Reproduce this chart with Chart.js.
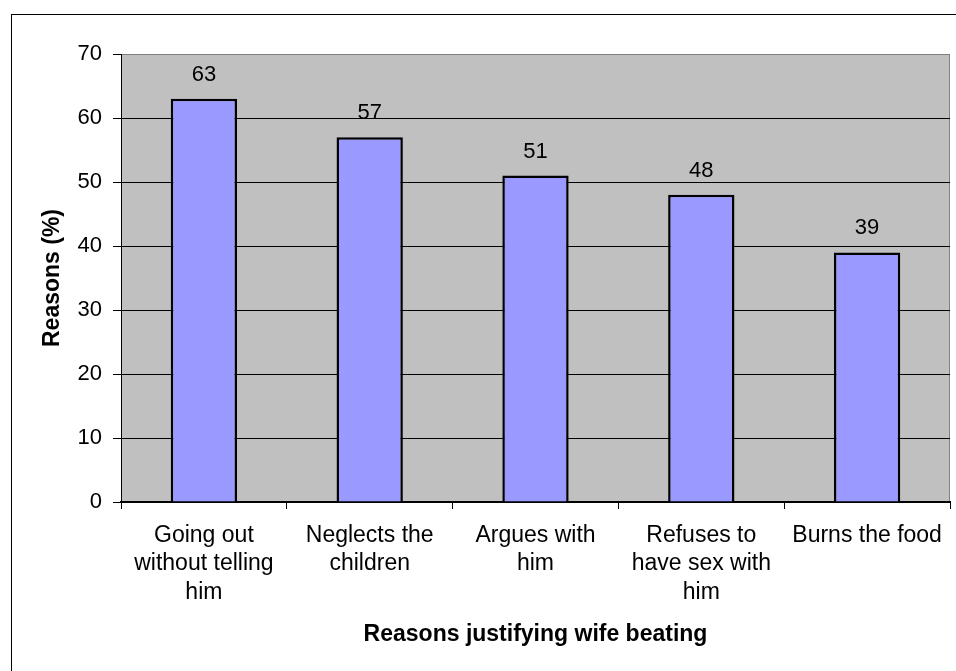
<!DOCTYPE html>
<html>
<head>
<meta charset="utf-8">
<script src="https://cdn.jsdelivr.net/npm/chart.js@4.4.1/dist/chart.umd.min.js"></script>
<style>
  body { margin: 0; background: #fff; }
</style>
</head>
<body>
<canvas id="chart" width="956" height="671"></canvas>
<script>
/* Data */
const categories = [
    ['Going out', 'without telling', 'him'],
    ['Neglects the', 'children'],
    ['Argues with', 'him'],
    ['Refuses to', 'have sex with', 'him'],
    ['Burns the food']
];
const reasons = [63, 57, 51, 48, 39];
const yTicks = { min: 0, max: 70, step: 10 };

const FONT = '"Liberation Sans", Arial, sans-serif';

/* Grey plot area plus the frame round the picture */
const backdrop = {
    id: 'backdrop',
    beforeDraw(chart) {
        const { ctx, chartArea: a } = chart;
        ctx.save();
        ctx.fillStyle = '#C0C0C0';
        ctx.fillRect(a.left, a.top, a.right - a.left, a.bottom - a.top);
        ctx.strokeStyle = '#808080';
        ctx.lineWidth = 1;
        ctx.strokeRect(a.left + 0.5, a.top + 0.5, a.right - a.left - 1, a.bottom - a.top - 1);
        ctx.strokeStyle = '#000';
        ctx.strokeRect(11.5, 14.5, 1200, 1200);
        ctx.restore();
    }
};

/* Values written above each bar */
const barValues = {
    id: 'barValues',
    afterDatasetsDraw(chart) {
        const { ctx } = chart;
        const meta = chart.getDatasetMeta(0);
        ctx.save();
        ctx.font = '22px ' + FONT;
        ctx.fillStyle = '#000';
        ctx.textAlign = 'center';
        ctx.textBaseline = 'middle';
        meta.data.forEach((bar, i) => {
            ctx.fillText(chart.data.datasets[0].data[i], bar.x, bar.y - 24);
        });
        ctx.restore();
    }
};

const ctx = document.getElementById('chart');
const chart = new Chart(ctx, {
    type: 'bar',
    data: {
        labels: categories,
        datasets: [{
            data: reasons,
            backgroundColor: '#9999FF',
            borderColor: '#000',
            borderWidth: 2.5,
            barPercentage: 0.4,
            categoryPercentage: 1
        }]
    },
    options: {
        responsive: false,
        animation: false,
        layout: { padding: { left: 0, top: 54, right: 6, bottom: 0 } },
        plugins: {
            legend: { display: false },
            tooltip: { enabled: false }
        },
        scales: {
            x: {
                afterFit(scale) { scale.height = 169; },
                grid: {
                    drawOnChartArea: false,
                    drawTicks: true,
                    tickLength: 7,
                    color: '#000'
                },
                border: { color: '#000', width: 2 },
                ticks: {
                    color: '#000',
                    padding: 12,
                    maxRotation: 0,
                    font: { family: FONT, size: 23, lineHeight: 1.24 }
                },
                title: {
                    display: true,
                    text: 'Reasons justifying wife beating',
                    color: '#000',
                    padding: { top: 0, bottom: 23 },
                    font: { family: FONT, size: 23, weight: 'bold' }
                }
            },
            y: {
                min: yTicks.min,
                max: yTicks.max,
                afterFit(scale) { scale.width = 121; },
                grid: {
                    color: c => (c.tick && c.tick.value === yTicks.max) ? '#808080' : '#000',
                    tickColor: '#000',
                    tickLength: 8
                },
                border: { color: '#000', width: 1 },
                ticks: {
                    stepSize: yTicks.step,
                    color: '#000',
                    padding: 11,
                    font: { family: FONT, size: 22 }
                },
                title: {
                    display: true,
                    text: 'Reasons (%)',
                    color: '#000',
                    padding: { top: 39, bottom: 0 },
                    font: { family: FONT, size: 23, weight: 'bold' }
                }
            }
        }
    },
    plugins: [backdrop, barValues]
});
</script>
</body>
</html>
